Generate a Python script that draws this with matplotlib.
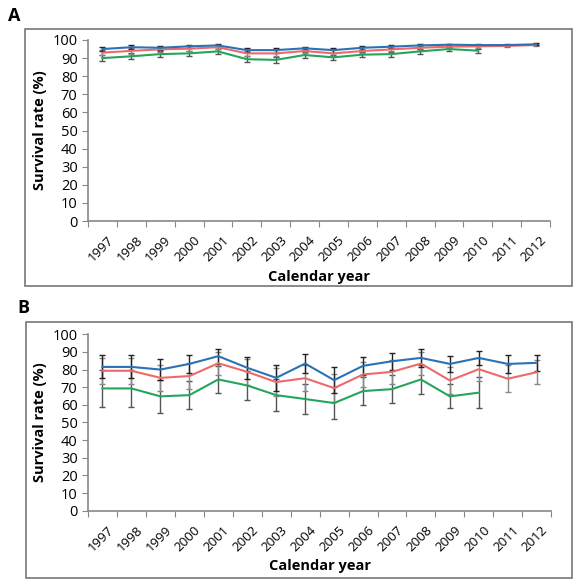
import numpy as np
import matplotlib.pyplot as plt
from matplotlib.patches import Rectangle

years = [str(y) for y in range(1997, 2013)]

# panel A
a_blue = [95, 96, 95.7, 96.5, 97, 94.4, 94.4, 95.4, 94.4, 95.7, 96.3, 97, 97.4, 97.2, 97.2, 97.6]
a_red = [93, 94, 94.8, 95.2, 96, 92.6, 92.6, 93.9, 92.6, 93.9, 94.8, 95.7, 96.3, 96.5, 96.7, 97.2]
a_green = [90, 91, 92.2, 92.6, 93.7, 89.4, 89, 91.7, 90.4, 91.9, 92.2, 93.7, 95, 94.1]
a_blue_err = [1.2, 1.2, 1.0, 1.0, 0.8, 1.2, 1.4, 1.0, 1.4, 1.0, 0.8, 0.8, 0.6, 0.6, 0.6, 0.5]
a_red_err = [1.5, 1.5, 1.3, 1.3, 1.0, 1.5, 1.6, 1.3, 1.6, 1.3, 1.0, 1.0, 0.8, 0.8, 0.8, 0.6]
a_green_err = [1.5, 1.6, 1.5, 1.4, 1.2, 1.6, 1.7, 1.5, 1.5, 1.3, 1.4, 1.2, 1.0, 1.1]

# panel B
b_blue = [81.5, 81.5, 80, 83.2, 87.6, 81, 75.3, 83.4, 74, 82.1, 84.7, 86.6, 83.2, 86.6, 83.2, 83.8]
b_red = [79.3, 79.3, 75.3, 76.3, 83.6, 78.7, 72.9, 75.1, 69.5, 77.2, 78.7, 83.4, 73.8, 80.2, 74.8, 78.5]
b_green = [69.3, 69.3, 64.8, 65.5, 74.4, 71, 65.5, 63.3, 61, 67.8, 68.9, 74.4, 64.8, 66.9]
b_blue_err = [6.5, 6.5, 6, 5.3, 4.3, 6.2, 7.2, 5.6, 7.2, 5, 4.8, 5.1, 4.4, 4, 5.1, 4.7]
b_red_err = [7.3, 7.3, 7.5, 7.5, 6.5, 7.5, 8, 7.5, 8, 7, 7, 6.5, 7.5, 6.5, 7.8, 6.7]
b_green_err = [10.3, 10.3, 9.2, 8, 7.5, 8.3, 9.1, 8.7, 9, 8, 7.9, 8.4, 6.8, 8.9]

c_blue = '#2a72b5'
c_red = '#ee6a6a'
c_green = '#25a55c'

plt.rcParams['font.family'] = ['Open Sans', 'DejaVu Sans']

fig = plt.figure(figsize=(5.79, 5.88), dpi=100)


def panel(rect, blue, red, green, eb, er, eg):
    ax = fig.add_axes(rect)
    x = np.arange(len(years))
    ax.errorbar(x[:len(green)], green, yerr=eg, color=c_green, lw=1.5,
                ecolor='#555555', elinewidth=1, capsize=2.5, capthick=1)
    ax.errorbar(x, red, yerr=er, color=c_red, lw=1.5,
                ecolor='#888888', elinewidth=1, capsize=2.5, capthick=1)
    ax.errorbar(x, blue, yerr=eb, color=c_blue, lw=1.5,
                ecolor='#222222', elinewidth=1, capsize=2.5, capthick=1)
    ax.set_xlim(-0.5, len(years) - 0.5)
    ax.set_ylim(0, 100)
    ax.set_yticks(range(0, 101, 10))
    ax.set_xticks(np.arange(len(years) + 1) - 0.5, minor=False)
    ax.set_xticklabels([])
    ax.set_xticks(x + 0.15, minor=True)
    ax.set_xticklabels(years, minor=True, rotation=45, ha='right',
                       rotation_mode='anchor', fontsize=9.5)
    ax.tick_params(axis='x', which='minor', length=0, pad=9)
    ax.tick_params(axis='x', which='major', length=4, color='#888888', direction='out')
    ax.tick_params(axis='y', length=4, color='#888888', labelsize=10.5)
    for s in ['top', 'right']:
        ax.spines[s].set_visible(False)
    for s in ['left', 'bottom']:
        ax.spines[s].set_color('#888888')
        ax.spines[s].set_linewidth(1.2)
    ax.set_ylabel('Survival rate (%)', fontsize=10.5, fontweight='bold', labelpad=4)
    ax.set_xlabel('Calendar year', fontsize=10.5, fontweight='bold', labelpad=4)
    return ax


panel([0.152, 0.624, 0.798, 0.308], a_blue, a_red, a_green, a_blue_err, a_red_err, a_green_err)
panel([0.152, 0.1315, 0.8, 0.300], b_blue, b_red, b_green, b_blue_err, b_red_err, b_green_err)

fig.patches.append(Rectangle((25 / 579, 1 - 286 / 588), 547 / 579, 257 / 588, transform=fig.transFigure,
                             fill=False, edgecolor='#777777', lw=1.2))
fig.patches.append(Rectangle((26 / 579, 1 - 578 / 588), 546 / 579, 256 / 588, transform=fig.transFigure,
                             fill=False, edgecolor='#777777', lw=1.2))

fig.text(8 / 579, 1 - 16 / 588, 'A', fontsize=13, fontweight='bold', va='center')
fig.text(17 / 579, 1 - 308 / 588, 'B', fontsize=13, fontweight='bold', va='center')

fig.savefig('out.png', dpi=100)
